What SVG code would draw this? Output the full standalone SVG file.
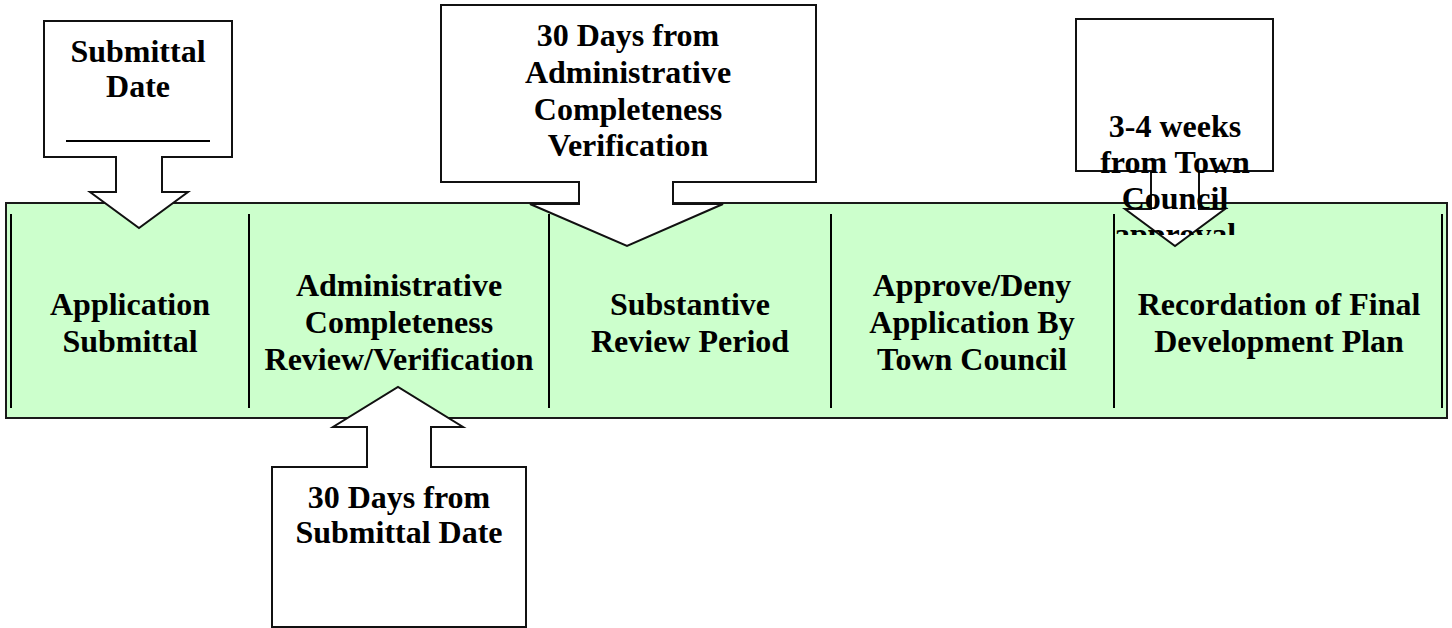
<svg xmlns="http://www.w3.org/2000/svg" width="1452" height="628" viewBox="0 0 1452 628">
<style>
  .t { font-family: "Liberation Serif", "Times New Roman", serif; font-weight: bold; font-size: 32px; fill: #000; text-anchor: middle; }
  .co { fill: #fff; stroke: #111; stroke-width: 2; stroke-linejoin: miter; }
  .band { fill: #ccffcc; stroke: #1a1a1a; stroke-width: 2; }
  .div { stroke: #000; stroke-width: 2; fill: none; }
</style>
<defs>
  <clipPath id="clipApproval"><rect x="1050" y="0" width="260" height="235"/></clipPath>
</defs>
<rect x="0" y="0" width="1452" height="628" fill="#fff"/>

<g id="band">
  <rect class="band" x="6" y="203" width="1441" height="215"/>
</g>

<g id="connectors">
  <line class="div" x1="11" y1="214" x2="11" y2="408"/>
  <line class="div" x1="249" y1="214" x2="249" y2="408"/>
  <line class="div" x1="549" y1="214" x2="549" y2="408"/>
  <line class="div" x1="831" y1="214" x2="831" y2="408"/>
  <line class="div" x1="1114" y1="214" x2="1114" y2="408"/>
  <line class="div" x1="1442" y1="214" x2="1442" y2="408"/>
</g>

<g id="step-application-submittal">
  <text class="t" x="130" y="315">Application</text>
  <text class="t" x="130" y="352">Submittal</text>
</g>
<g id="step-admin-review">
  <text class="t" x="399" y="296">Administrative</text>
  <text class="t" x="399" y="333">Completeness</text>
  <text class="t" x="399" y="370">Review/Verification</text>
</g>
<g id="step-substantive-review">
  <text class="t" x="690" y="315">Substantive</text>
  <text class="t" x="690" y="352">Review Period</text>
</g>
<g id="step-approve-deny">
  <text class="t" x="972" y="296">Approve/Deny</text>
  <text class="t" x="972" y="333">Application By</text>
  <text class="t" x="972" y="370">Town Council</text>
</g>
<g id="step-recordation">
  <text class="t" x="1279" y="315">Recordation of Final</text>
  <text class="t" x="1279" y="352">Development Plan</text>
</g>

<g id="callout-submittal-date">
  <path class="co" d="M44,21 H232 V157 H162 V192 H188 L139,228 L90,192 H116 V157 H44 Z"/>
  <text class="t" x="138" y="62">Submittal</text>
  <text class="t" x="138" y="97">Date</text>
  <line x1="66" y1="141" x2="210" y2="141" stroke="#000" stroke-width="2"/>
</g>

<g id="callout-30-days-admin">
  <path class="co" d="M441,5 H816 V182 H673 V204 H723 L627,246 L530,204 H579 V182 H441 Z"/>
  <text class="t" x="628" y="46">30 Days from</text>
  <text class="t" x="628" y="83">Administrative</text>
  <text class="t" x="628" y="120">Completeness</text>
  <text class="t" x="628" y="156">Verification</text>
</g>

<g id="callout-3-4-weeks">
  <path class="co" d="M1076,19 H1273 V171 H1199 V209 H1225 L1175,246 L1125,209 H1151 V171 H1076 Z"/>
  <text class="t" x="1175" y="137">3-4 weeks</text>
  <text class="t" x="1175" y="173">from Town</text>
  <text class="t" x="1175" y="209">Council</text>
  <text class="t" x="1175" y="245" clip-path="url(#clipApproval)">approval</text>
</g>

<g id="callout-30-days-submittal">
  <path class="co" d="M272,627 V467 H367 V427 H333 L398,387 L463,427 H431 V467 H526 V627 Z"/>
  <text class="t" x="399" y="508">30 Days from</text>
  <text class="t" x="399" y="543">Submittal Date</text>
</g>
</svg>
